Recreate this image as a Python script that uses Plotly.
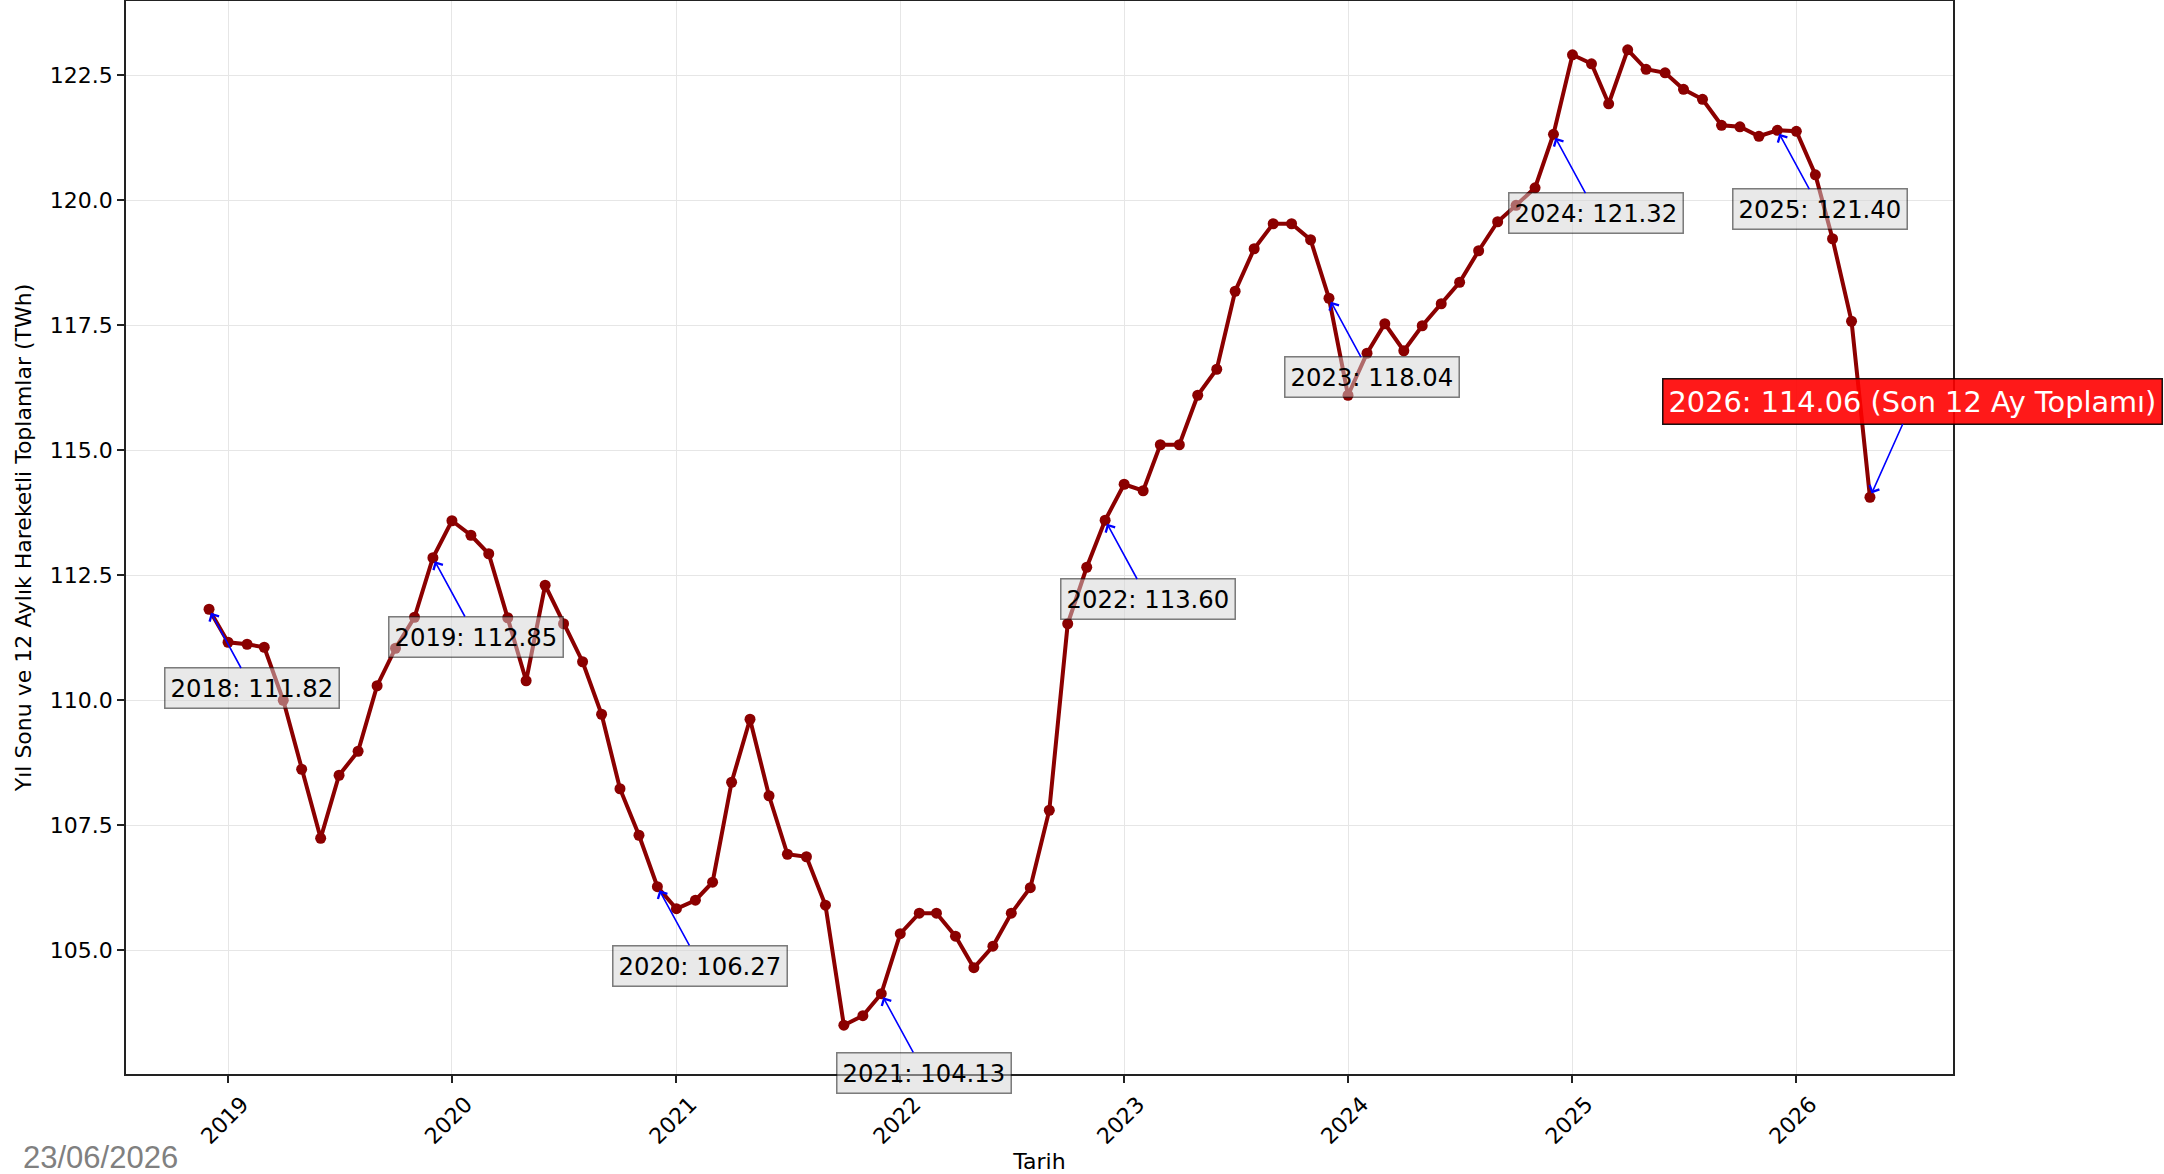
import pandas as pd
import plotly.graph_objects as go

# ---- data (monthly 12-month moving totals, TWh) ----
start_month = "2018-12-01"
values = [
    111.82,
    111.16, 111.12, 111.06, 110.00, 108.62, 107.24, 108.50, 108.98, 110.29, 111.04, 111.66, 112.85,
    113.59, 113.30, 112.93, 111.65, 110.39, 112.30, 111.53, 110.77, 109.72, 108.23, 107.30, 106.27,
    105.83, 106.00, 106.36, 108.36, 109.62, 108.09, 106.92, 106.87, 105.90, 103.50, 103.69, 104.13,
    105.33, 105.74, 105.74, 105.28, 104.65, 105.08, 105.74, 106.25, 107.80, 111.53, 112.66, 113.60,
    114.32, 114.19, 115.11, 115.11, 116.10, 116.62, 118.18, 119.03, 119.53, 119.53, 119.21, 118.04,
    116.10, 116.94, 117.53, 116.99, 117.49, 117.93, 118.36, 118.99, 119.57, 119.90, 120.25, 121.32,
    122.91, 122.73, 121.93, 123.01, 122.62, 122.55, 122.22, 122.02, 121.50, 121.47, 121.28, 121.40,
    121.38, 120.51, 119.23, 117.58, 114.06,
]
dates = pd.date_range(start_month, periods=len(values), freq="MS")
tick_years = [2019, 2020, 2021, 2022, 2023, 2024, 2025, 2026]
last_label_suffix = " (Son 12 Ay Toplamı)"
date_text = "23/06/2026"
x_title = "Tarih"
y_title = "Yıl Sonu ve 12 Aylık Hareketli Toplamlar (TWh)"

# ---- axis ranges with matplotlib-like 5% margins ----
span = dates[-1] - dates[0]
x_range = [dates[0] - span * 0.05, dates[-1] + span * 0.05]
vmin, vmax = min(values), max(values)
vpad = (vmax - vmin) * 0.05
y_range = [vmin - vpad, vmax + vpad]

FONT = "DejaVu Sans"

fig = go.Figure()
fig.add_trace(go.Scatter(
    x=dates, y=values, mode="lines+markers",
    line=dict(color="#8B0000", width=4),
    marker=dict(color="#8B0000", size=11),
    showlegend=False, hoverinfo="x+y",
))

annotations = []
for d, v in zip(dates, values):
    if d.month == 12:
        annotations.append(dict(
            x=d, y=v, xref="x", yref="y",
            text=f"{d.year}: {v:.2f}",
            showarrow=True, ax=43, ay=79, axref="pixel", ayref="pixel",
            arrowhead=4, arrowsize=1.3, arrowwidth=1.6, arrowcolor="blue",
            standoff=4,
            font=dict(family=FONT, size=24.3, color="black"),
            bgcolor="rgba(211,211,211,0.5)", bordercolor="rgba(0,0,0,0.5)",
            borderwidth=1.5, borderpad=5,
        ))
d_last, v_last = dates[-1], values[-1]
annotations.append(dict(
    x=d_last, y=v_last, xref="x", yref="y",
    text=f"{d_last.year}: {v_last:.2f}{last_label_suffix}",
    showarrow=True, ax=43, ay=-96, axref="pixel", ayref="pixel",
    arrowhead=4, arrowsize=1.3, arrowwidth=1.6, arrowcolor="blue",
    standoff=4,
    font=dict(family=FONT, size=28.8, color="white"),
    bgcolor="rgba(255,0,0,0.9)", bordercolor="rgba(0,0,0,0.9)",
    borderwidth=1.5, borderpad=5,
))
annotations.append(dict(
    x=-0.0575, y=-0.0774, xref="paper", yref="paper",
    xanchor="left", yanchor="middle", showarrow=False,
    text=date_text, font=dict(family="Liberation Sans", size=31, color="#808080"),
))

fig.update_layout(
    width=2164, height=1174,
    margin=dict(l=126, r=211, t=1, b=100, autoexpand=False),
    paper_bgcolor="white", plot_bgcolor="white",
    font=dict(family=FONT, size=22, color="black"),
    annotations=annotations,
    xaxis=dict(
        range=x_range, type="date",
        tickmode="array",
        tickvals=[pd.Timestamp(f"{y}-01-01") for y in tick_years],
        ticktext=[str(y) for y in tick_years],
        tickangle=-45, ticks="outside", ticklen=7, tickwidth=1.5, tickcolor="#222",
        ticklabelshift=14, ticklabelstandoff=0,
        showgrid=True, gridcolor="#e6e6e6", gridwidth=1,
        showline=True, linecolor="#222", linewidth=1.5, mirror=True,
        zeroline=False, automargin=False,
        title=dict(text=x_title, font=dict(size=22), standoff=6),
        tickfont=dict(size=22),
    ),
    yaxis=dict(
        range=y_range, tick0=105, dtick=2.5, tickformat=".1f",
        ticks="outside", ticklen=7, tickwidth=1.5, tickcolor="#222",
        showgrid=True, gridcolor="#e6e6e6", gridwidth=1,
        showline=True, linecolor="#222", linewidth=1.5, mirror=True,
        zeroline=False, automargin=False,
        title=dict(text=y_title, font=dict(size=22), standoff=12),
        tickfont=dict(size=22),
    ),
)

fig.write_html("out.html", config={"displayModeBar": False},
               post_script="document.body.style.margin='0';")
